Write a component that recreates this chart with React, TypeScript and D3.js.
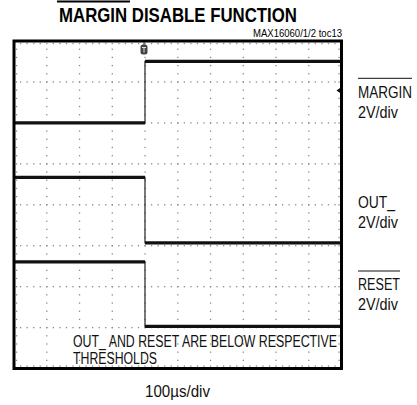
import React from "react";
import * as d3 from "d3";

// time axis: 100us/div, trigger at 0
const timeUs = [-400, 0, 0, 600];
// channel voltages (V), 2V/div each
const marginV = [0, 0, 3.0, 3.0];
const outV = [3.2, 3.2, 0, 0];
const resetV = [3.15, 3.15, 0, 0];

const channelNames = ["MARGIN", "OUT_", "RESET"];
const scaleLabel = "2V/div";
const timeLabel = "100\u00b5s/div";

const W = 417;
const H = 405;
const frame = { left: 14, right: 341.5, top: 41, bottom: 368.5 };
const xDivs = 10;
const yDivs = 8;
const VOLTS_PER_DIV = 2;

const NARROW = "'Liberation Sans Narrow', 'Arial Narrow', 'Liberation Sans', Arial, sans-serif";

const App = () => {
  const x = d3.scaleLinear().domain([-400, 600]).range([frame.left, frame.right]);
  // vertical position in divisions, 0 = screen centre, + up
  const y = d3.scaleLinear().domain([yDivs / 2, -yDivs / 2]).range([frame.top, frame.bottom]);

  const traces = [
    { name: "margin", values: marginV, offset: 2.0 },
    { name: "out", values: outV, offset: -0.93 },
    { name: "reset", values: resetV, offset: -2.97 },
  ];

  const line = d3
    .line<[number, number]>()
    .x((d) => x(d[0]))
    .y((d) => y(d[1]));

  // graticule dots
  const xStep = (frame.right - frame.left) / xDivs;
  const yStep = (frame.bottom - frame.top) / yDivs;
  const dots: [number, number][] = [];
  for (let k = 0; k <= yDivs; k++) {
    const gy = frame.top + k * yStep + (k === 0 ? 2.5 : k === yDivs ? -2.5 : 0);
    for (let m = 0; m <= xDivs * 5; m++) dots.push([frame.left + (m * xStep) / 5, gy]);
  }
  for (let j = 0; j <= xDivs; j++) {
    const gx = frame.left + j * xStep + (j === 0 ? 2.5 : j === xDivs ? -2.5 : 0);
    for (let m = 0; m <= yDivs * 5; m++) dots.push([gx, frame.top + (m * yStep) / 5]);
  }

  const trigX = x(0) - 1;
  const markY = y(yDivs / 2 - 1.21);

  return (
    <svg
      width={W}
      height={H}
      style={{ position: "absolute", left: 0, top: 0, background: "#fff" }}
      fontFamily={NARROW}
    >
      {/* title */}
      <line x1={57} x2={130} y1={1.5} y2={1.5} stroke="#000" strokeWidth={2} />
      <text x={59} y={22} fontSize={21} fontWeight="bold" textLength={238} lengthAdjust="spacingAndGlyphs">
        MARGIN DISABLE FUNCTION
      </text>
      <text x={342} y={37} fontSize={10} textAnchor="end" textLength={89} lengthAdjust="spacingAndGlyphs">
        MAX16060/1/2 toc13
      </text>

      {/* graticule */}
      <g fill="#8a8a8a">
        {dots.map((d, i) => (
          <rect key={i} x={d[0] - 0.6} y={d[1] - 0.6} width={1.3} height={1.3} />
        ))}
      </g>

      {/* traces */}
      {traces.map((t) => {
        const pts: [number, number][] = timeUs.map((tu, i) => [tu, t.offset + t.values[i] / VOLTS_PER_DIV]);
        const runs: [number, number][][] = [];
        for (let i = 1; i < pts.length; i++) {
          if (pts[i][1] === pts[i - 1][1] && pts[i][0] !== pts[i - 1][0]) runs.push([pts[i - 1], pts[i]]);
        }
        return (
          <g key={t.name}>
            <path d={line(pts) ?? ""} fill="none" stroke="#333" strokeWidth={1.3} />
            {runs.map((r, i) => (
              <path key={i} d={line(r) ?? ""} fill="none" stroke="#111" strokeWidth={3.2} />
            ))}
          </g>
        );
      })}

      {/* trigger marker */}
      <line x1={trigX} x2={trigX} y1={frame.top} y2={45} stroke="#333" strokeWidth={1} />
      <rect x={trigX - 3.5} y={44.5} width={7} height={10} rx={2.5} fill="#444" />
      <path d={`M${trigX - 2},47.5 H${trigX + 2} M${trigX},47.5 V52.5`} stroke="#ddd" strokeWidth={1} />
      {/* channel level marker */}
      <path d={`M${frame.right - 5},${markY} L${frame.right},${markY - 3.5} L${frame.right},${markY + 3.5} Z`} fill="#111" />

      {/* frame */}
      <rect
        x={frame.left}
        y={frame.top}
        width={frame.right - frame.left}
        height={frame.bottom - frame.top}
        fill="none"
        stroke="#000"
        strokeWidth={3}
      />

      {/* channel labels */}
      <g fontSize={16} fill="#111">
        <line x1={358} x2={412} y1={78.3} y2={78.3} stroke="#111" strokeWidth={1} />
        <text x={358} y={98} textLength={54} lengthAdjust="spacingAndGlyphs">{channelNames[0]}</text>
        <text x={358} y={118} textLength={40} lengthAdjust="spacingAndGlyphs">{scaleLabel}</text>
        <text x={358} y={208.3} textLength={37} lengthAdjust="spacingAndGlyphs">{channelNames[1]}</text>
        <text x={358} y={227.5} textLength={40} lengthAdjust="spacingAndGlyphs">{scaleLabel}</text>
        <line x1={358} x2={400} y1={271} y2={271} stroke="#111" strokeWidth={1} />
        <text x={358} y={290} textLength={42} lengthAdjust="spacingAndGlyphs">{channelNames[2]}</text>
        <text x={358} y={310} textLength={40} lengthAdjust="spacingAndGlyphs">{scaleLabel}</text>
      </g>

      {/* annotation */}
      <g fontSize={16} fill="#111">
        <text x={73} y={346.7} textLength={264} lengthAdjust="spacingAndGlyphs">
          OUT_ AND RESET ARE BELOW RESPECTIVE
        </text>
        <text x={73} y={363.5} textLength={84} lengthAdjust="spacingAndGlyphs">
          THRESHOLDS
        </text>
        <text x={145} y={397} textLength={65} lengthAdjust="spacingAndGlyphs">
          {timeLabel}
        </text>
      </g>
    </svg>
  );
};

export default App;
